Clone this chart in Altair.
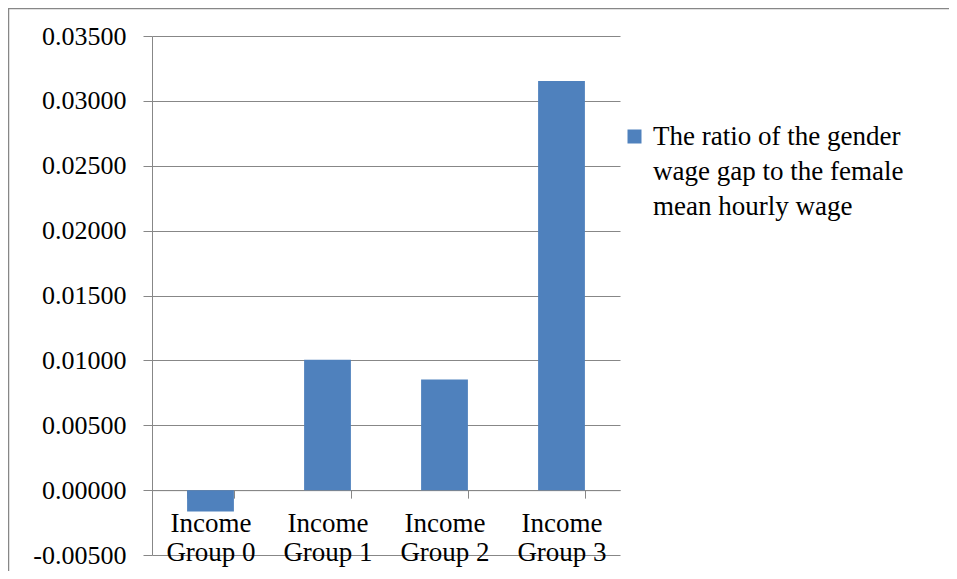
import altair as alt
import pandas as pd

categories = ["Income Group 0", "Income Group 1", "Income Group 2", "Income Group 3"]
values = [-0.00165, 0.01005, 0.00853, 0.03154]
series_name = "The ratio of the gender wage gap to the female mean hourly wage"
legend_lines = ["The ratio of the gender", "wage gap to the female", "mean hourly wage"]
y_ticks = [-0.005, 0.0, 0.005, 0.010, 0.015, 0.020, 0.025, 0.030, 0.035]

df = pd.DataFrame({"category": categories, "value": values, "series": [series_name] * len(categories)})

W, H = 468, 519
GRAY = "#878787"
FONT = "Liberation Serif"
DY = -13  # vertical shift for guide labels (compensated on axes)
ymin, ymax = y_ticks[0], y_ticks[-1]
zero_offset = -H * (0 - ymin) / (ymax - ymin)

legend_expr = "[" + ",".join("'" + s + "'" for s in legend_lines) + "]"

bars = alt.Chart(df).mark_bar(color="#4F81BD").encode(
    x=alt.X(
        "category:N",
        sort=categories,
        scale=alt.Scale(paddingInner=0.6, paddingOuter=0.3),
        axis=alt.Axis(
            title=None,
            tickBand="extent",
            labelAngle=0,
            labelExpr="[slice(datum.label, 0, 6), slice(datum.label, 7)]",
            labelFont=FONT,
            labelFontSize=27,
            labelColor="black",
            labelLineHeight=29,
            labelBaseline="top",
            labelPadding=12 - DY,
            tickSize=8,
            tickColor=GRAY,
            domainColor=GRAY,
            offset=zero_offset,
            grid=False,
        ),
    ),
    y=alt.Y(
        "value:Q",
        scale=alt.Scale(domain=[ymin, ymax], nice=False, zero=False),
        axis=alt.Axis(
            title=None,
            values=y_ticks,
            labelExpr="replace(format(datum.value, '.5f'), '\u2212', '-')",
            labelFont=FONT,
            labelFontSize=26,
            labelColor="black",
            labelPadding=17,
            labelOffset=-DY,
            tickSize=9,
            tickColor=GRAY,
            domainColor=GRAY,
            gridColor=GRAY,
            grid=True,
        ),
    ),
    fill=alt.Fill(
        "series:N",
        scale=alt.Scale(range=["#4F81BD"]),
        legend=alt.Legend(
            title=None,
            orient="none",
            legendX=469,
            legendY=87,
            padding=0,
            symbolType="square",
            symbolSize=196,
            symbolStrokeWidth=0,
            labelExpr=legend_expr,
            labelFont=FONT,
            labelFontSize=27,
            labelColor="black",
            labelBaseline="top",
            labelOffset=5,
            labelLimit=400,
        ),
    ),
)

frame = alt.Chart(pd.DataFrame({"f": [0]})).mark_rect(
    fill=None, stroke=GRAY, strokeWidth=1.5
).encode(
    x=alt.value(-143.5), x2=alt.value(W + 500),
    y=alt.value(-27.5), y2=alt.value(H + 200),
)

chart = alt.layer(frame, bars).properties(
    width=W, height=H,
    autosize=alt.AutoSizeParams(type="none"),
    padding={"left": 144, "top": 28, "right": 329, "bottom": 16},
).configure(
    background="white",
    style={"guide-label": {"lineHeight": 35, "dy": DY}},
).configure_view(stroke=None)

chart.save("out.html", embed_options={"renderer": "svg", "actions": False})
